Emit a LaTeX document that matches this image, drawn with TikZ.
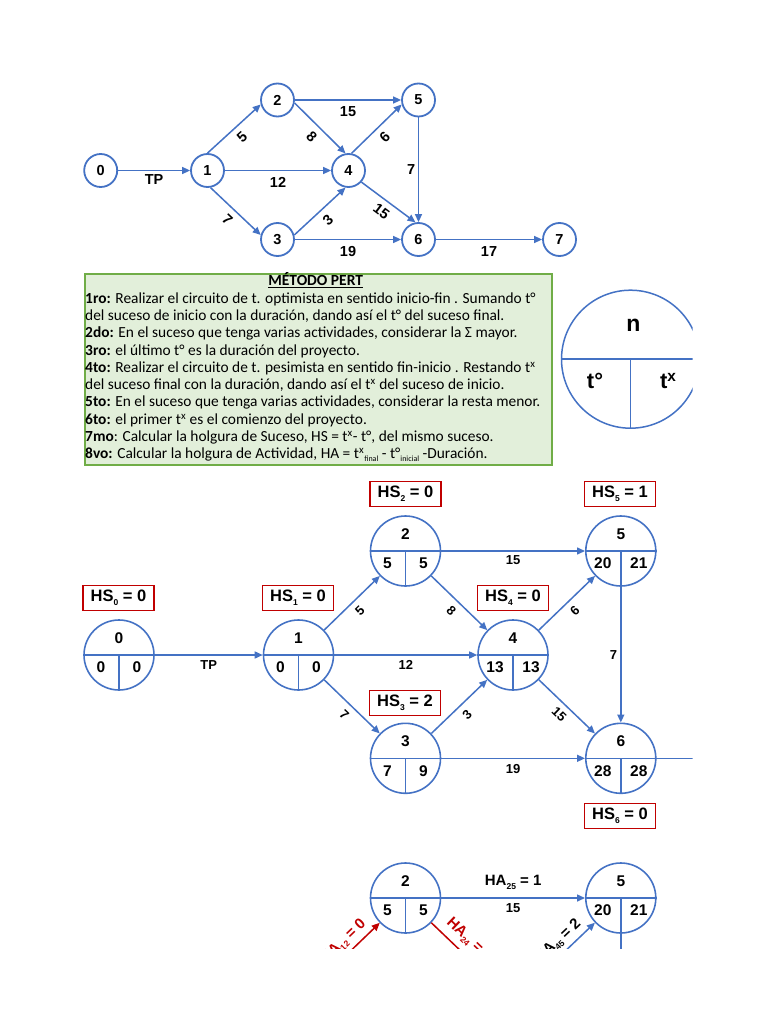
\documentclass[tikz,border=0pt]{standalone}
\usepackage{fontspec}
\setmainfont{Carlito}
\newfontfamily\dgf{Liberation Sans}
\usetikzlibrary{arrows.meta,calc}
\definecolor{pblue}{HTML}{4472C4}
\definecolor{pred}{HTML}{C00000}
\definecolor{pgreen}{HTML}{70AD47}
\definecolor{pgfill}{HTML}{E2EFDA}
\newcommand\sbs[1]{\raisebox{-0.22em}{\fontsize{8.5}{8.5}\selectfont #1}}
\newcommand\sbt[1]{\raisebox{-0.2em}{\fontsize{8}{8}\selectfont #1}}
\tikzset{
  sn/.style={circle, draw=pblue, line width=1.8pt, minimum size=33pt, inner sep=0pt, font=\dgf\bfseries\fontsize{14.5}{14.5}\selectfont},
  arr/.style={draw=pblue, line width=1.5pt, -{Triangle[length=8pt,width=7pt]}},
  lbl/.style={font=\dgf\bfseries\fontsize{14.5}{14.5}\selectfont, inner sep=1pt, text=black},
  bn/.style={circle, draw=pblue, line width=1.6pt, minimum size=70pt, inner sep=0pt},
  bt/.style={font=\dgf\bfseries\fontsize{15.5}{15.5}\selectfont, inner sep=0pt},
  divl/.style={draw=pblue, line width=1.5pt},
  hsbox/.style={draw=pred, line width=1.8pt, minimum width=71pt, minimum height=25pt, inner sep=0pt, font=\dgf\bfseries\fontsize{16.5}{16.5}\selectfont},
  ml/.style={font=\dgf\bfseries\fontsize{13}{13}\selectfont, inner sep=1pt},
  hal/.style={font=\dgf\bfseries\fontsize{15}{15}\selectfont, inner sep=1pt},
}
\newcommand\pertNode[6]{%
  \node[bn] (#1) at (#2,#3) {};
  \draw[divl] (#1.west) -- (#1.east) (#1.center) -- (#1.south);
  \node[bt] (#1-n) at ($(#1.center)+(0,-17)$) {#4};
  \node[bt] (#1-a) at ($(#1.center)+(-18,12.5)$) {#5};
  \node[bt] (#1-b) at ($(#1.center)+(18,12.5)$) {#6};
}
\begin{document}
\begin{tikzpicture}[x=1pt, y=-1pt]
\useasboundingbox (0,0) rectangle (768,1024);
\begin{scope}
\clip (0,0) rectangle (692.5,948.5);
% ---------- top graph ----------
\node[sn] (t0) at (100.7,170.5) {0};
\node[sn] (t1) at (207.5,170.5) {1};
\node[sn] (t2) at (277.5,100) {2};
\node[sn] (t3) at (277.5,239.5) {3};
\node[sn] (t4) at (348.5,170.5) {4};
\node[sn] (t5) at (418.5,100) {5};
\node[sn] (t6) at (418.5,239.5) {6};
\node[sn] (t7) at (559.5,239.5) {7};
\draw[arr] (t0.east) -- node[lbl,below=2pt]{TP} (t1.west);
\draw[arr] (t1.east) -- node[lbl,below=5pt]{12} (t4.west);
\draw[arr] (t2.east) -- node[lbl,below=5pt]{15} (t5.west);
\draw[arr] (t3.east) -- node[lbl,below=5pt]{19} (t6.west);
\draw[arr] (t6.east) -- node[lbl,below=5pt]{17} (t7.west);
\draw[arr] (t5.south) -- node[lbl,left=1.5pt]{7} (t6.north);
\draw[arr] (t1.north) -- node[lbl,below=5pt,sloped]{5} (t2.195);
\draw[arr] (t2.-10) -- node[lbl,below=5pt,sloped]{8} (t4.100);
\draw[arr] (t4.80) -- node[lbl,below=5pt,sloped]{6} (t5.195);
\draw[arr] (t1.-80) -- node[lbl,below=5pt,sloped]{7} (t3.165);
\draw[arr] (t3.15) -- node[lbl,below=5pt,sloped]{3} (t4.260);
\draw[arr] (t4.-42) -- node[lbl,below=5pt,sloped]{15} (t6.100);
% ---------- text box ----------
\node[draw=pgreen, fill=pgfill, line width=2pt, minimum width=467pt, minimum height=191pt, anchor=north west, inner sep=0pt] (box) at (84,273) {};
\node[font=\bfseries\fontsize{15.5}{15.5}\selectfont, inner sep=0pt] (title) at (315.7,280.5) {\underline{MÉTODO PERT}};
\node[anchor=north west, align=left, inner sep=0pt, font=\fontsize{15.4}{17.3}\selectfont] (body) at (85,292.3) {%
\textbf{1ro:} Realizar el circuito de t. optimista en sentido inicio-fin . Sumando t°\\
del suceso de inicio con la duración, dando así el t° del suceso final.\\
\textbf{2do:} En el suceso que tenga varias actividades, considerar la Σ mayor.\\
\textbf{3ro:} el último t° es la duración del proyecto.\\
\textbf{4to:} Realizar el circuito de t. pesimista en sentido fin-inicio . Restando t\textsuperscript{x}\\
del suceso final con la duración, dando así el t\textsuperscript{x} del suceso de inicio.\\
\textbf{5to:} En el suceso que tenga varias actividades, considerar la resta menor.\\
\textbf{6to:} el primer t\textsuperscript{x} es el comienzo del proyecto.\\
\textbf{7mo}: Calcular la holgura de Suceso, HS = t\textsuperscript{x}- t°, del mismo suceso.\\
\textbf{8vo:} Calcular la holgura de Actividad, HA = t\textsuperscript{x}\sbt{final} - t°\sbt{inicial} -Duración.};
% ---------- legend circle ----------
\node[circle, draw=pblue, line width=1.5pt, minimum size=138pt, inner sep=0pt] (leg) at (630.5,359.2) {};
\draw[divl] (leg.west) -- (leg.east) (leg.center) -- (leg.south);
\node[font=\dgf\bfseries\fontsize{23}{23}\selectfont, inner sep=0pt] (leg-n) at (633.3,325) {n};
\node[font=\dgf\bfseries\fontsize{22}{22}\selectfont, inner sep=0pt] (leg-a) at (595,381) {t°};
\node[font=\dgf\bfseries\fontsize{22}{22}\selectfont, inner sep=0pt] (leg-b) at (668.3,381) {t\textsuperscript{x}};
% ---------- middle graph ----------
\pertNode{m0}{119}{655}{0}{0}{0}
\pertNode{m1}{298.5}{655}{1}{0}{0}
\pertNode{m2}{405.5}{551}{2}{5}{5}
\pertNode{m3}{405.5}{758.3}{3}{7}{9}
\pertNode{m4}{513}{655}{4}{13}{13}
\pertNode{m5}{620.8}{551}{5}{20}{21}
\pertNode{m6}{620.8}{758.3}{6}{28}{28}
\coordinate (m7) at (720,758.3);
\draw[arr] (m0.east) -- node[ml,below=3.5pt]{TP} (m1.west);
\draw[arr] (m1.east) -- node[ml,below=3.5pt]{12} (m4.west);
\draw[arr] (m2.east) -- node[ml,below=3pt]{15} (m5.west);
\draw[arr] (m3.east) -- node[ml,below=4pt]{19} (m6.west);
\draw[divl] (m6.east) -- (m7);
\draw[arr] (m5.south) -- node[ml,left=2pt]{7} (m6.north);
\draw[arr] (m1) -- node[ml,below=5pt,sloped]{5} (m2);
\draw[arr] (m2) -- node[ml,below=5pt,sloped]{8} (m4);
\draw[arr] (m1) -- node[ml,below=5pt,sloped]{7} (m3);
\draw[arr] (m3) -- node[ml,below=5pt,sloped]{3} (m4);
\draw[arr] (m4) -- node[ml,below=5pt,sloped]{6} (m5);
\draw[arr] (m4) -- node[ml,below=5pt,sloped]{15} (m6);
\node[hsbox] (h0) at (118.5,598) {HS\sbs{0} = 0};
\node[hsbox] (h1) at (298,598) {HS\sbs{1} = 0};
\node[hsbox] (h2) at (405.5,494) {HS\sbs{2} = 0};
\node[hsbox] (h3) at (405,703) {HS\sbs{3} = 2};
\node[hsbox] (h4) at (513,598) {HS\sbs{4} = 0};
\node[hsbox] (h5) at (620,494) {HS\sbs{5} = 1};
\node[hsbox] (h6) at (620,816) {HS\sbs{6} = 0};
% ---------- bottom graph (cut off) ----------
\pertNode{b2}{405.5}{898}{2}{5}{5}
\pertNode{b5}{620.8}{898}{5}{20}{21}
\coordinate (b1) at (323.6,976.9);
\coordinate (b4w) at (487.9,976.9);
\coordinate (b4e) at (538.1,976.9);
\coordinate (b6) at (620.8,1070);
\draw[arr] (b2.east) -- node[hal,above=7pt]{HA\sbs{25} = 1} node[ml,below=3.5pt]{15} (b5.west);
\draw[arr, draw=pred] (b1) -- node[hal,text=pred,above=3pt,sloped]{HA\sbs{12} = 0} (b2);
\draw[arr, draw=pred] (b2) -- node[hal,text=pred,above=5pt,sloped]{HA\sbs{24} = 0} (b4w);
\draw[arr] (b4e) -- node[hal,above=3pt,sloped]{HA\sbs{45} = 2} (b5);
\draw[arr] (b5.south) -- (b6);
\end{scope}
\end{tikzpicture}
\end{document}
